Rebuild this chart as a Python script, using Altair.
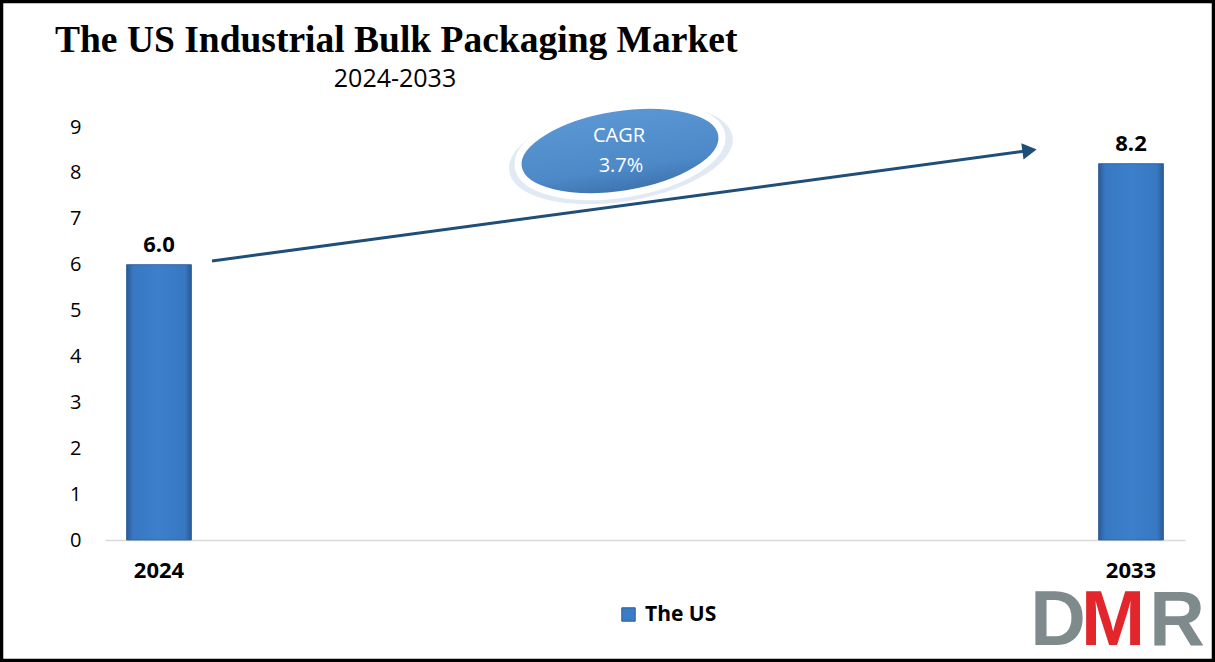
import altair as alt
import pandas as pd

# ---------------- data ----------------
title_text = "The US Industrial Bulk Packaging Market"
subtitle_text = "2024-2033"
years = ["2024", "2033"]
values = [6.0, 8.2]
all_years = [str(y) for y in range(2024, 2034)]
series_name = "The US"
y_ticks = [0, 1, 2, 3, 4, 5, 6, 7, 8, 9]
cagr_lines = ["CAGR", "3.7%"]
logo_letters = ["D", "M", "R"]
logo_colors = ["#7f8a8c", "#e3262b", "#7f8a8c"]

# ---------------- layout ----------------
W, H = 1080, 413
PAD = {"left": 105, "top": 127, "right": 30, "bottom": 122}


def px(ax):
    return ax - PAD["left"]


def py(ay):
    return ay - PAD["top"]


FONT = "Open Sans"
BLUE = "#3a7cc7"

df = pd.DataFrame({
    "year": years,
    "value": values,
    "series": [series_name] * len(years),
    "label": [f"{v:.1f}" for v in values],
})

x_enc = alt.X(
    "year:O",
    scale=alt.Scale(domain=all_years, paddingInner=0.4, paddingOuter=0.2),
    axis=alt.Axis(values=years, title=None, labelAngle=0, labelFont=FONT,
                  labelFontSize=22, labelFontWeight="bold", labelColor="black",
                  labelPadding=20, domainColor="#d9d9d9", domainWidth=1.5,
                  ticks=False, grid=False),
)
y_enc = alt.Y(
    "value:Q",
    scale=alt.Scale(domain=[0, 9], nice=False, zero=True),
    axis=alt.Axis(values=y_ticks, title=None, grid=False, domain=False, ticks=False,
                  labelFont=FONT, labelFontSize=20, labelColor="black", labelPadding=24),
)

base = alt.Chart(df)

# solid bars carry the legend
bars_legend = base.mark_bar().encode(
    x=x_enc, y=y_enc,
    color=alt.Color("series:N", scale=alt.Scale(range=[BLUE]),
                    legend=alt.Legend(title=None, orient="none", legendX=px(618), legendY=py(604),
                                      symbolType="square", symbolSize=180,
                                      symbolStrokeColor="#2c5d96", symbolStrokeWidth=1,
                                      labelFont=FONT, labelFontSize=21, labelFontWeight="bold",
                                      labelColor="black", labelOffset=6, padding=0)),
)

bar_gradient = alt.Gradient(
    gradient="linear", x1=0, x2=1, y1=0, y2=0,
    stops=[
        alt.GradientStop(offset=0, color="#2a5a94"),
        alt.GradientStop(offset=0.1, color="#3878c2"),
        alt.GradientStop(offset=0.5, color="#3c7fcb"),
        alt.GradientStop(offset=0.9, color="#3878c2"),
        alt.GradientStop(offset=1, color="#2a5a94"),
    ],
)
bars = base.mark_bar(fill=bar_gradient, stroke="#2c5d96", strokeWidth=0.8).encode(
    x="year:O", y="value:Q"
)

bar_labels = base.mark_text(dy=-13, baseline="alphabetic", font=FONT, fontSize=22,
                            fontWeight="bold", color="black").encode(
    x="year:O", y="value:Q", text="label:N"
)

one = pd.DataFrame({"k": [0]})


def label_layer(text, x, y, **kw):
    return alt.Chart(pd.DataFrame({"t": [text]})).mark_text(**kw).encode(
        text="t:N", x=alt.value(x), y=alt.value(y)
    )


# title / subtitle
title = label_layer(title_text, px(55), py(52), font="Liberation Serif", fontSize=37.5,
                    fontWeight="bold", align="left", baseline="alphabetic", color="black")
subtitle = label_layer(subtitle_text, px(395), py(87), font=FONT, fontSize=25,
                       align="center", baseline="alphabetic", color="black")

# arrow
arrow_line = alt.Chart(one).mark_rule(color="#1f4e79", strokeWidth=3).encode(
    x=alt.value(px(212)), x2=alt.value(px(1026)), y=alt.value(py(261)), y2=alt.value(py(151))
)
arrow_head = alt.Chart(one).mark_point(shape="triangle-right", filled=True, fill="#1f4e79",
                                       stroke="#1f4e79", size=170, opacity=1, angle=352.3).encode(
    x=alt.value(px(1029)), y=alt.value(py(150.5))
)

# CAGR ellipse
ellipse_path = "M-1,0 A1,0.42 0 1,1 1,0 A1,0.42 0 1,1 -1,0 Z"
shadow = alt.Chart(one).mark_point(shape=ellipse_path, filled=True, fill="#c3d5ea",
                                   opacity=0.5, size=226 ** 2, angle=351, strokeWidth=0).encode(
    x=alt.value(px(621)), y=alt.value(py(154))
)
ell_gradient = alt.Gradient(
    gradient="linear", x1=0, x2=0, y1=0, y2=1,
    stops=[alt.GradientStop(offset=0, color="#5b97d3"),
           alt.GradientStop(offset=0.7, color="#4d89c8"),
           alt.GradientStop(offset=1, color="#3b72ad")],
)
ellipse = alt.Chart(one).mark_point(shape=ellipse_path, filled=True, fill=ell_gradient,
                                    stroke="white", strokeWidth=7, opacity=1,
                                    size=206 ** 2, angle=351).encode(
    x=alt.value(px(620)), y=alt.value(py(151))
)
cagr_1 = label_layer(cagr_lines[0], px(619), py(136), font=FONT, fontSize=20, color="white",
                     align="center", baseline="middle")
cagr_2 = label_layer(cagr_lines[1], px(621), py(166), font=FONT, fontSize=20, color="white",
                     align="center", baseline="middle")

# DMR logo
logo_x = [1058, 1113, 1177]
logo = [
    label_layer(t, px(xx), py(645), font="Liberation Sans", fontSize=77, fontWeight="bold",
                align="center", baseline="alphabetic", color=c)
    for t, c, xx in zip(logo_letters, logo_colors, logo_x)
]

# frame
frame = alt.Chart(one).mark_rect(fill=None, stroke="black", strokeWidth=3.5, filled=False).encode(
    x=alt.value(px(1.5)), x2=alt.value(px(1213.5)), y=alt.value(py(1.5)), y2=alt.value(py(660.5))
)

chart = alt.layer(
    bars_legend, bars, bar_labels, title, subtitle, arrow_line, arrow_head,
    shadow, ellipse, cagr_1, cagr_2, *logo, frame
).properties(
    width=W, height=H,
    padding=PAD,
    autosize="none",
    background="white",
).configure_view(stroke=None)

chart.save("out.html", embed_options={"renderer": "svg", "actions": False})
